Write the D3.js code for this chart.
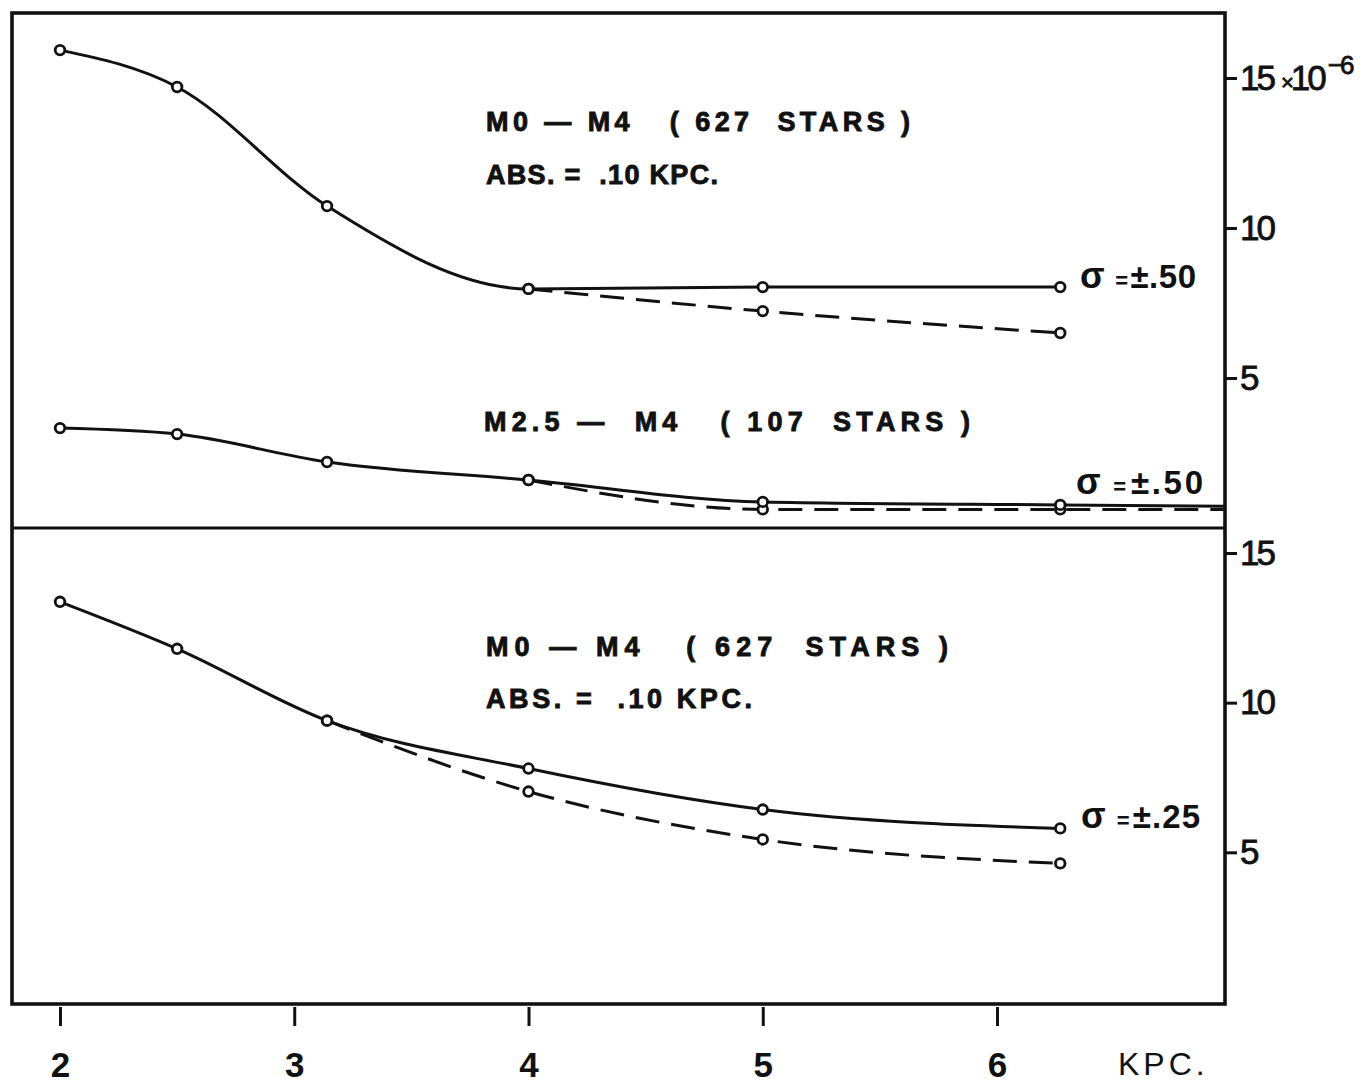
<!DOCTYPE html>
<html>
<head>
<meta charset="utf-8">
<script src="https://cdn.jsdelivr.net/npm/d3@7"></script>
<style>
  body { margin: 0; background: #fff; }
  svg text { font-family: "Liberation Sans", "DejaVu Sans", sans-serif; fill: #111; }
</style>
</head>
<body>
<svg id="chart" width="1366" height="1084"></svg>
<script>
// distance in kpc where points were measured
var dist = [2, 2.5, 3.14, 4, 5, 6.27];
// upper panel, M0-M4
var topSolid = [15.93, 14.7, 10.73, 7.97, 8.03, 8.03];
var topDashX = [4, 5, 6.27];
var topDash = [7.97, 7.23, 6.5];
// upper panel, M2.5-M4 (lines run on to the frame)
var midSolid = [3.33, 3.13, 2.2, 1.6, 0.87, 0.77];
var midDashX = [4, 5, 6.27];
var midDash = [1.6, 0.62, 0.62];
var midTailX = 7.0, midTailSolid = 0.72, midTailDash = 0.62;
// lower panel, M0-M4
var botSolid = [13.37, 11.8, 9.4, 7.8, 6.43, 5.8];
var botDashX = [3.14, 4, 5, 6.27];
var botDash = [9.4, 7.03, 5.43, 4.63];

var xTicks = [2, 3, 4, 5, 6];
var yTicks = [5, 10, 15];

var svg = d3.select("#chart");
var frame = { left: 12, right: 1225, top: 13, mid: 528, bottom: 1004 };

var x = d3.scaleLinear().domain([2, 6]).range([60, 997]);
var yTop = d3.scaleLinear().domain([0, 15]).range([528, 78]);
var yBot = d3.scaleLinear().domain([0, 15]).range([1002, 553]);

svg.append("clipPath").attr("id", "clip")
  .append("rect")
  .attr("x", frame.left).attr("y", frame.top)
  .attr("width", frame.right - frame.left).attr("height", frame.bottom - frame.top);

// frame and divider
svg.append("rect")
  .attr("x", frame.left).attr("y", frame.top)
  .attr("width", frame.right - frame.left).attr("height", frame.bottom - frame.top)
  .attr("fill", "none").attr("stroke", "#111").attr("stroke-width", 3.6);
svg.append("line")
  .attr("x1", frame.left).attr("x2", frame.right)
  .attr("y1", frame.mid).attr("y2", frame.mid)
  .attr("stroke", "#111").attr("stroke-width", 2.8);

// bottom axis
var xAxis = d3.axisBottom(x).tickValues(xTicks).tickSize(19).tickPadding(26).tickFormat(d3.format("d"));
var gx = svg.append("g").attr("transform", "translate(0," + (frame.bottom + 3) + ")").call(xAxis);
gx.select(".domain").remove();
gx.selectAll("line").attr("stroke", "#111").attr("stroke-width", 3);
gx.selectAll("text").attr("font-size", 35).attr("font-weight", "bold").attr("font-family", "Liberation Sans");
svg.append("text").attr("x", 1118).attr("y", 1075)
  .attr("font-size", 32).attr("letter-spacing", 4).text("KPC.");

// right axes
function rightAxis(y, first) {
  var ax = d3.axisRight(y).tickValues(yTicks).tickSize(12).tickPadding(3).tickFormat(d3.format("d"));
  var g = svg.append("g").attr("transform", "translate(" + frame.right + ",0)").call(ax);
  g.select(".domain").remove();
  g.selectAll("line").attr("stroke", "#111").attr("stroke-width", 3);
  g.selectAll("text").attr("font-size", 35).attr("letter-spacing", -3).attr("font-family", "Liberation Sans")
    .attr("stroke", "#111").attr("stroke-width", 0.8);
  if (first) {
    g.selectAll("text").filter(function (d) { return d === 15; })
      .text(null)
      .call(function (t) {
        t.append("tspan").text("15");
        t.append("tspan").attr("font-size", 22).attr("dx", 8).text("×");
        t.append("tspan").text("10");
        t.append("tspan").attr("font-size", 26).attr("dy", -16).attr("dx", 4).text("−6");
      });
  }
}
rightAxis(yTop, true);
rightAxis(yBot, false);

var line = function (y) {
  return d3.line().x(function (d) { return x(d[0]); }).y(function (d) { return y(d[1]); }).curve(d3.curveMonotoneX);
};
var plot = svg.append("g").attr("clip-path", "url(#clip)");

function drawCurve(xs, ys, y, dashed, dots) {
  var pts = xs.map(function (v, i) { return [v, ys[i]]; });
  plot.append("path").datum(pts)
    .attr("d", line(y))
    .attr("fill", "none").attr("stroke", "#111").attr("stroke-width", 3)
    .attr("stroke-dasharray", dashed ? "24,12" : null);
  if (dots) {
    svg.selectAll(null).data(pts.slice(0, dots)).enter().append("circle")
      .attr("cx", function (d) { return x(d[0]); })
      .attr("cy", function (d) { return y(d[1]); })
      .attr("r", 4.8)
      .attr("fill", "#fff").attr("stroke", "#111").attr("stroke-width", 2.8);
  }
}

drawCurve(topDashX, topDash, yTop, true, topDashX.length);
drawCurve(dist, topSolid, yTop, false, dist.length);
drawCurve(midDashX.concat([midTailX]), midDash.concat([midTailDash]), yTop, true, midDashX.length);
drawCurve(dist.concat([midTailX]), midSolid.concat([midTailSolid]), yTop, false, dist.length);
drawCurve(botDashX, botDash, yBot, true, botDashX.length);
drawCurve(dist, botSolid, yBot, false, dist.length);

// annotations
function label(xp, yp, txt, width) {
  svg.append("text").attr("x", xp).attr("y", yp)
    .attr("font-size", 27).attr("font-weight", "bold")
    .attr("stroke", "#111").attr("stroke-width", 0.9)
    .attr("textLength", width).attr("lengthAdjust", "spacing")
    .attr("xml:space", "preserve").text(txt);
}
label(486, 131, "M0 — M4   ( 627  STARS )", 424);
label(486, 184, "ABS. =  .10 KPC.", 232);
label(484, 431, "M2.5 —  M4   ( 107  STARS )", 486);
label(486, 656, "M0 — M4   ( 627  STARS )", 462);
label(486, 708, "ABS. =  .10 KPC.", 266);

function sigma(xp, yp, val, width) {
  var t = svg.append("text").attr("x", xp).attr("y", yp).attr("font-size", 33)
    .attr("font-weight", "bold").attr("textLength", width).attr("lengthAdjust", "spacing");
  t.append("tspan").attr("font-size", 36).text("σ");
  t.append("tspan").attr("dx", 10).attr("font-size", 22).text("=");
  t.append("tspan").attr("dx", 2).text("±" + val);
}
sigma(1080, 288, ".50", 116);
sigma(1076, 494, ".50", 127);
sigma(1081, 828, ".25", 119);
</script>
</body>
</html>
